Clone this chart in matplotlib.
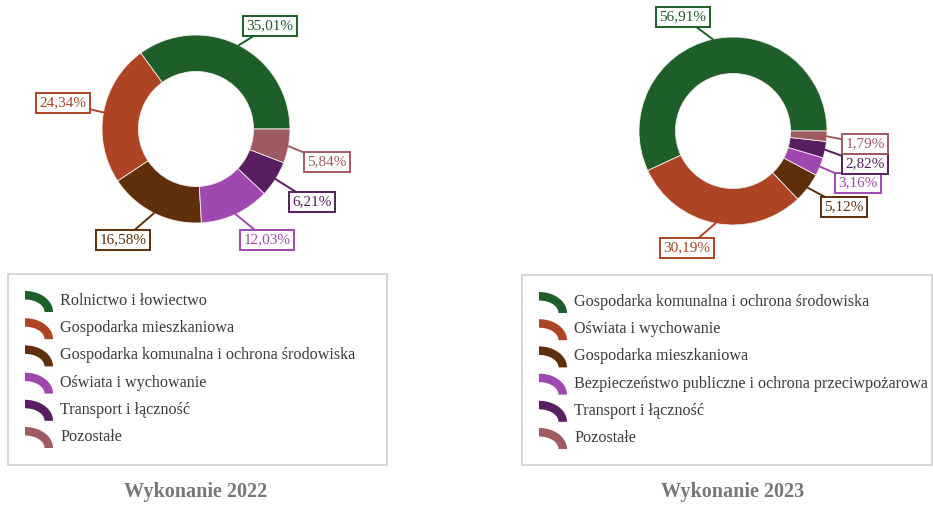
import matplotlib.pyplot as plt
import numpy as np
from matplotlib.patches import Rectangle, Polygon

plt.rcParams['font.family'] = ['Liberation Serif', 'DejaVu Serif']

# data
cat22 = ["Rolnictwo i łowiectwo", "Gospodarka mieszkaniowa",
         "Gospodarka komunalna i ochrona środowiska", "Oświata i wychowanie",
         "Transport i łączność", "Pozostałe"]
val22 = [35.01, 24.34, 16.58, 12.03, 6.21, 5.84]

cat23 = ["Gospodarka komunalna i ochrona środowiska", "Oświata i wychowanie",
         "Gospodarka mieszkaniowa",
         "Bezpieczeństwo publiczne i ochrona przeciwpożarowa",
         "Transport i łączność", "Pozostałe"]
val23 = [56.91, 30.19, 5.12, 3.16, 2.82, 1.79]

titles = ["Wykonanie 2022", "Wykonanie 2023"]

colors = ["#1e5e28", "#ad4424", "#5f2e0a", "#9e48b0", "#571f60", "#a05a62"]

# layout (pixels, y pointing down)
W, H = 933, 505
R, RING = 94, 36.5
centers = [(196, 129), (733, 131)]
label_pos = [
    [(270, 26), (63, 103), (123, 240), (267, 240), (312, 202), (327, 162)],
    [(683, 17), (687, 248), (844, 207), (858, 183), (865, 164), (865, 144)],
]
legend_boxes = [(8, 274, 379, 191), (522, 275, 410, 190)]

fig = plt.figure(figsize=(W / 100, H / 100), dpi=100)
ax = fig.add_axes([0, 0, 1, 1])


def legend_icon(x0, y0, color, rx=28, ry=21, t=8.5):
    a = np.linspace(np.pi / 2, 0, 30)
    outer = np.column_stack([x0 + rx * np.cos(a), y0 - ry * np.sin(a)])
    inner = np.column_stack([x0 + (rx - t) * np.cos(a[::-1]),
                             y0 - (ry - t) * np.sin(a[::-1])])
    ax.add_patch(Polygon(np.vstack([outer, inner]), closed=True,
                         fc=color, ec='none'))


for k, (cats, vals) in enumerate([(cat22, val22), (cat23, val23)]):
    cx, cy = centers[k]
    # y axis is inverted, so clockwise here turns counterclockwise on screen
    ax.pie(vals, colors=colors, center=(cx, cy), radius=R, startangle=0,
           counterclock=False, frame=True,
           wedgeprops=dict(width=RING, edgecolor='#f4eeee', linewidth=0.6))

    cum = np.cumsum([0] + vals)
    total = cum[-1]
    for i, v in enumerate(vals):
        mid = np.deg2rad((cum[i] + v / 2) / total * 360)
        edge = (cx + R * np.cos(mid), cy - R * np.sin(mid))
        txt = f"{v:.2f}".replace('.', ',') + '%'
        ax.annotate(txt, xy=edge, xytext=label_pos[k][i], ha='center',
                    va='center', color=colors[i], fontsize=11,
                    bbox=dict(boxstyle='square,pad=0.2', fc='white',
                              ec=colors[i], lw=1.4),
                    arrowprops=dict(arrowstyle='-', color=colors[i], lw=1.4,
                                    shrinkA=0, shrinkB=0))

    # legend
    bx, by, bw, bh = legend_boxes[k]
    ax.add_patch(Rectangle((bx, by), bw, bh, fc='white', ec='#d0d0d0',
                           lw=1.2))
    for i, c in enumerate(cats):
        ry = by + 27 + i * 27.2
        legend_icon(bx + 17, ry + 11, colors[i])
        ax.text(bx + 52, ry, c, ha='left', va='center', fontsize=11.6,
                color='#3a3a3a')

    ax.text(cx, 492, titles[k], ha='center', va='center', fontsize=14.5,
            fontweight='bold', color='#777777')

ax.set_xlim(0, W)
ax.set_ylim(H, 0)
ax.set_aspect('auto')
ax.axis('off')

fig.savefig('out.png', dpi=100, facecolor='white')
